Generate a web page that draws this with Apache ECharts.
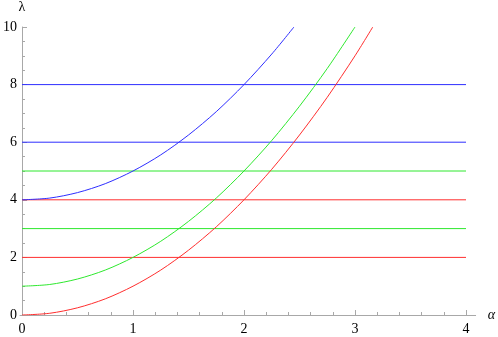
<!DOCTYPE html>
<html><head><meta charset="utf-8">
<script src="https://cdn.jsdelivr.net/npm/echarts@6/dist/echarts.min.js"></script>
<style>html,body{margin:0;padding:0;background:#fff}#c{width:498px;height:337px}</style>
</head><body><div id="c"></div>
<script>
const xTicks = [0, 1, 2, 3, 4];
const yTicks = [0, 2, 4, 6, 8, 10];
const blueCurve = [[0,4],[0.25,4.06],[0.5,4.25],[0.75,4.56],[1,5],[1.25,5.56],[1.5,6.25],[1.75,7.06],[2,8],[2.25,9.06],[2.45,10]];
const greenCurve = [[0,1],[0.25,1.06],[0.5,1.25],[0.75,1.56],[1,2],[1.25,2.56],[1.5,3.25],[1.75,4.06],[2,5],[2.25,6.06],[2.5,7.25],[2.75,8.56],[3,10]];
const redCurve = [[0,0],[0.25,0.06],[0.5,0.25],[0.75,0.56],[1,1],[1.25,1.56],[1.5,2.25],[1.75,3.06],[2,4],[2.25,5.06],[2.5,6.25],[2.75,7.56],[3,9],[3.16,10]];
const blueLevels = [8, 6];
const greenLevels = [5, 3];
const redLevels = [4, 2];
const xRange = [0, 4];

const BLUE = '#2e2eff', GREEN = '#2ee82e', RED = '#ff2e2e';
const AX = '#a8a8a8';
const font = 'Liberation Serif';

function curve(data, color) {
  return { type: 'line', data, xAxisIndex: 1, yAxisIndex: 1, showSymbol: false, smooth: 0.3,
    lineStyle: { color, width: 1 }, silent: true, z: 3 };
}
function level(v, color) {
  return { type: 'line', data: [[xRange[0], v], [xRange[1], v]], xAxisIndex: 1, yAxisIndex: 1,
    showSymbol: false, lineStyle: { color, width: 1 }, silent: true, z: 2 };
}

const series = [];
blueLevels.forEach(v => series.push(level(v, BLUE)));
greenLevels.forEach(v => series.push(level(v, GREEN)));
redLevels.forEach(v => series.push(level(v, RED)));
series.push(curve(blueCurve, BLUE), curve(greenCurve, GREEN), curve(redCurve, RED));

const chart = echarts.init(document.getElementById('c'), null, { renderer: 'canvas' });
chart.setOption({
  animation: false,
  textStyle: { fontFamily: font },
  grid: [
    { left: 20, right: 22, top: 27, bottom: 22 },
    { left: 20, right: 32, top: 27, bottom: 22 }
  ],
  xAxis: [
    { type: 'value', gridIndex: 0, min: 0, max: 4.09,
      axisLine: { lineStyle: { color: AX, width: 1 } }, axisTick: { show: false },
      axisLabel: { show: false }, splitLine: { show: false },
      name: 'α', nameLocation: 'end', nameGap: 12,
      nameTextStyle: { fontFamily: font, fontStyle: 'italic', fontSize: 14, color: '#000', verticalAlign: 'middle' } },
    { type: 'value', gridIndex: 1, min: 0, max: 4, interval: 1,
      axisLine: { show: false },
      axisTick: { inside: true, length: 5, lineStyle: { color: AX } },
      minorTick: { show: true, splitNumber: 5, length: 3, lineStyle: { color: AX } },
      axisLabel: { margin: 7, fontFamily: font, fontSize: 14, color: '#000' },
      splitLine: { show: false } }
  ],
  yAxis: [
    { type: 'value', gridIndex: 0, min: 0, max: 10, show: false },
    { type: 'value', gridIndex: 1, min: 0, max: 10, interval: 2,
      axisLine: { show: true, lineStyle: { color: AX, width: 1 } },
      axisTick: { show: true, inside: true, length: 5, lineStyle: { color: AX } },
      minorTick: { show: true, splitNumber: 4, length: 3, lineStyle: { color: AX } },
      axisLabel: { margin: 5, fontFamily: font, fontSize: 14, color: '#000' },
      splitLine: { show: false },
      name: 'λ', nameLocation: 'end', nameGap: 13,
      nameTextStyle: { fontFamily: font, fontSize: 14, color: '#000', align: 'center' } }
  ],
  series
});
</script></body></html>
